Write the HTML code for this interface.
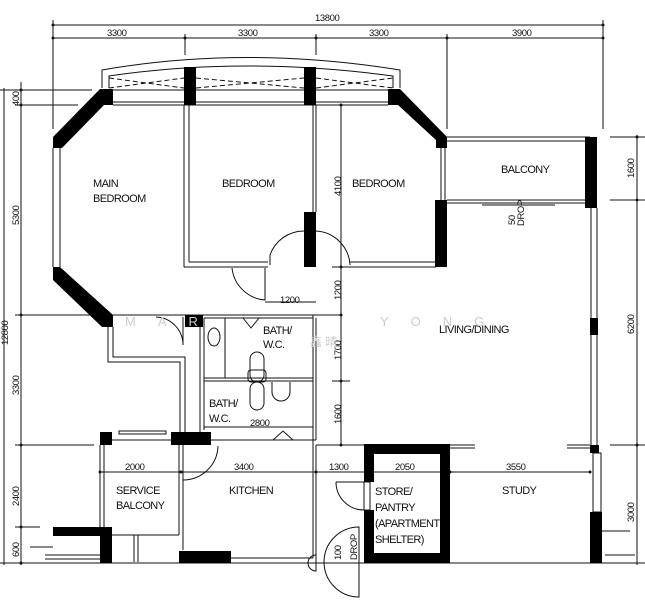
<!DOCTYPE html>
<html><head><meta charset="utf-8"><style>
html,body{margin:0;padding:0;background:#fff;}
svg{display:block;}
text{font-family:"Liberation Sans","Noto Sans CJK SC",sans-serif;fill:#111;}
.t{font-size:11px;letter-spacing:-0.6px;}
.d{font-size:9.5px;letter-spacing:-0.4px;}
</style></head><body>
<svg width="645" height="600" viewBox="0 0 645 600" xmlns="http://www.w3.org/2000/svg">
<g stroke="#111" stroke-width="1" fill="none">
<!-- top dims -->
<line x1="53" y1="25" x2="603" y2="25"/>
<line x1="53" y1="38" x2="603" y2="38"/>
<line x1="53" y1="20" x2="53" y2="129"/>
<line x1="185" y1="34" x2="185" y2="55"/>
<line x1="316" y1="34" x2="316" y2="55"/>
<line x1="447" y1="34" x2="447" y2="129"/>
<line x1="603" y1="20" x2="603" y2="129"/>
<!-- left dims -->
<line x1="4" y1="88" x2="4" y2="565"/>
<line x1="21" y1="82" x2="21" y2="565"/>
<line x1="0" y1="90" x2="92" y2="90"/>
<line x1="15" y1="105" x2="78" y2="105"/>
<line x1="15" y1="315" x2="341" y2="315"/>
<line x1="15" y1="445" x2="94" y2="445"/>
<line x1="15" y1="527" x2="40" y2="527"/>
<line x1="0" y1="563" x2="645" y2="563"/>
<!-- right dims -->
<line x1="637" y1="135" x2="637" y2="565"/>
<line x1="610" y1="137" x2="645" y2="137"/>
<line x1="610" y1="200" x2="645" y2="200"/>
<line x1="610" y1="445" x2="645" y2="445"/>
<!-- window arc -->
<path d="M102,88 L102,70 Q245,45 400,70 L400,88"/>
<path d="M109,88 L109,76 Q245,56 393,76 L393,88"/>
<line x1="102" y1="90" x2="400" y2="90"/>
<line x1="113" y1="102" x2="388" y2="102"/>
<line x1="113" y1="105" x2="388" y2="105"/>
<path d="M109,78 L184,88 M109,88 L184,78 M196,78 L304,88 M196,88 L304,78 M316,78 L393,88 M316,88 L393,78" stroke-dasharray="5,3"/>
<!-- main bedroom left wall -->
<line x1="53" y1="148" x2="53" y2="267"/>
<line x1="60" y1="148" x2="60" y2="267"/>
<!-- partitions -->
<line x1="184" y1="105" x2="184" y2="267"/>
<line x1="189" y1="105" x2="189" y2="262"/>
<line x1="184" y1="267" x2="268" y2="267"/>
<line x1="189" y1="262" x2="268" y2="262"/>
<line x1="313" y1="105" x2="313" y2="212"/>
<line x1="316" y1="105" x2="316" y2="212"/>
<line x1="350" y1="267" x2="436" y2="267"/>
<line x1="350" y1="262" x2="436" y2="262"/>
<line x1="441" y1="148" x2="441" y2="200"/>
<line x1="445" y1="148" x2="445" y2="200"/>
<!-- doors -->
<path d="M270,265 L270,255 A36,36 0 0 1 304,231"/>
<path d="M316,231 A36,36 0 0 1 350,265"/>
<path d="M232,268 A36,36 0 0 0 265,300 L265,268"/>
<!-- dim 4100 etc -->
<line x1="341" y1="105" x2="341" y2="445"/>
<line x1="332" y1="267" x2="350" y2="267"/>
<line x1="332" y1="381" x2="350" y2="381"/>
<line x1="265" y1="302" x2="316" y2="302"/>
<!-- balcony -->
<line x1="447" y1="137" x2="590" y2="137"/>
<line x1="447" y1="141" x2="590" y2="141"/>
<line x1="447" y1="200" x2="590" y2="200"/>
<line x1="447" y1="203" x2="590" y2="203"/>
<line x1="482" y1="205" x2="555" y2="205"/>
<!-- right living wall -->
<line x1="591" y1="208" x2="591" y2="445"/>
<line x1="597" y1="208" x2="597" y2="445"/>
<rect x="593" y="453" width="8" height="59"/>
<!-- passage -->
<path d="M108,327 L108,362 L180,362 L180,432"/>
<path d="M113,327 L113,357 L185,357 L185,432"/>
<path d="M156,317 A28,28 0 0 1 183,345 L183,317"/>
<!-- bath -->
<line x1="200" y1="327" x2="200" y2="432"/>
<line x1="204" y1="318" x2="204" y2="430"/>
<line x1="204" y1="318" x2="313" y2="318"/>
<line x1="225" y1="318" x2="225" y2="378"/>
<line x1="204" y1="378" x2="313" y2="378"/>
<line x1="204" y1="381" x2="313" y2="381"/>
<line x1="204" y1="427" x2="313" y2="427"/>
<line x1="313" y1="315" x2="313" y2="440"/>
<line x1="316" y1="318" x2="316" y2="440"/>
<line x1="204" y1="440" x2="316" y2="440"/>
<ellipse cx="214" cy="337" rx="6" ry="9"/>
<rect x="250" y="352" width="14" height="30" rx="7"/>
<rect x="248" y="370" width="18" height="12" rx="3"/>
<rect x="250" y="382" width="14" height="28" rx="7"/>
<path d="M272,382 L272,392 A9,9 0 0 0 290,392 L290,382"/>
<path d="M243,318 L251,328 L259,318"/>
<path d="M273,440 L283,431 L293,440"/>
<!-- service balcony -->
<line x1="100" y1="445" x2="100" y2="527"/>
<line x1="104" y1="445" x2="104" y2="527"/>
<line x1="179" y1="445" x2="179" y2="535"/>
<line x1="183" y1="445" x2="183" y2="550"/>
<line x1="112" y1="535" x2="179" y2="535"/>
<line x1="134" y1="535" x2="134" y2="562"/>
<line x1="138" y1="535" x2="138" y2="562"/>
<line x1="112" y1="440" x2="171" y2="440"/>
<rect x="119" y="431" width="47" height="3"/>
<path d="M183,480 A35,35 0 0 0 218,446"/>
<line x1="30" y1="547" x2="53" y2="547"/>
<line x1="45" y1="555" x2="100" y2="555"/>
<line x1="45" y1="559" x2="100" y2="559"/>
<line x1="605" y1="555" x2="635" y2="555"/>
<line x1="600" y1="531" x2="630" y2="531"/>
<!-- kitchen -->
<line x1="213" y1="440" x2="313" y2="440"/>
<line x1="313" y1="440" x2="313" y2="558"/>
<line x1="316" y1="445" x2="316" y2="558"/>
<line x1="231" y1="558" x2="313" y2="558"/>
<!-- dim row -->
<line x1="100" y1="472" x2="590" y2="472"/>
<line x1="316" y1="445" x2="367" y2="445"/>
<!-- store door -->
<path d="M336,482 L367,482 M336,482 A28,28 0 0 0 364,510"/>
<rect x="364" y="482" width="6" height="28"/>
<path d="M359,527 A35,35 0 0 0 359,597 Z"/>
<path d="M316,555 A8,8 0 0 0 316,571 Z"/>
<line x1="450" y1="445" x2="475" y2="445"/>
<line x1="450" y1="448" x2="475" y2="448"/>
<line x1="567" y1="445" x2="590" y2="445"/>
<line x1="567" y1="448" x2="590" y2="448"/>
</g>
<!-- ticks -->
<g fill="#111">
<circle cx="53" cy="25" r="1.5"/><circle cx="603" cy="25" r="1.5"/>
<circle cx="53" cy="38" r="1.5"/><circle cx="185" cy="38" r="1.5"/><circle cx="316" cy="38" r="1.5"/><circle cx="447" cy="38" r="1.5"/><circle cx="603" cy="38" r="1.5"/>
<circle cx="21" cy="90" r="1.5"/><circle cx="21" cy="105" r="1.5"/><circle cx="21" cy="315" r="1.5"/><circle cx="21" cy="445" r="1.5"/><circle cx="21" cy="527" r="1.5"/><circle cx="21" cy="563" r="1.5"/>
<circle cx="637" cy="137" r="1.5"/><circle cx="637" cy="200" r="1.5"/><circle cx="637" cy="445" r="1.5"/>
<circle cx="341" cy="105" r="1.5"/><circle cx="341" cy="267" r="1.5"/><circle cx="341" cy="315" r="1.5"/><circle cx="341" cy="381" r="1.5"/><circle cx="341" cy="445" r="1.5"/>
<circle cx="100" cy="472" r="1.5"/><circle cx="181" cy="472" r="1.5"/><circle cx="316" cy="472" r="1.5"/><circle cx="367" cy="472" r="1.5"/><circle cx="450" cy="472" r="1.5"/><circle cx="590" cy="472" r="1.5"/>
</g>
<!-- black walls -->
<g fill="#000">
<rect x="184" y="67" width="12" height="38"/>
<rect x="304" y="67" width="12" height="38"/>
<polygon points="100,89 113,89 113,105 104,105 62,148 53,148 53,137"/>
<polygon points="388,89 400,89 447,137 447,148 436,148 436,140 398,105 388,105"/>
<rect x="435" y="200" width="12" height="67"/>
<rect x="304" y="212" width="12" height="55"/>
<polygon points="53,267 60,267 113,315 113,327 102,327 53,280"/>
<rect x="185" y="315" width="18" height="12"/>
<rect x="585" y="137" width="12" height="71"/>
<rect x="590" y="318" width="8" height="17"/>
<rect x="590" y="445" width="9" height="8"/>
<rect x="590" y="512" width="12" height="51"/>
<rect x="100" y="432" width="12" height="13"/>
<rect x="171" y="432" width="40" height="13"/>
<rect x="53" y="527" width="59" height="9"/>
<rect x="100" y="527" width="12" height="36"/>
<rect x="179" y="551" width="52" height="12"/>
<path d="M364,444 H450 V563 H364 V510 H374 V553 H440 V454 H374 V482 H364 Z"/>
</g>
<!-- labels -->
<g class="t">
<text x="93" y="187">MAIN</text>
<text x="93" y="202">BEDROOM</text>
<text x="222" y="187">BEDROOM</text>
<text x="352" y="187">BEDROOM</text>
<text x="501" y="173">BALCONY</text>
<text x="439" y="333">LIVING/DINING</text>
<text x="263" y="334">BATH/</text>
<text x="263" y="348">W.C.</text>
<text x="209" y="407">BATH/</text>
<text x="209" y="422">W.C.</text>
<text x="116" y="494">SERVICE</text>
<text x="116" y="509">BALCONY</text>
<text x="229" y="494">KITCHEN</text>
<text x="375" y="495">STORE/</text>
<text x="375" y="511">PANTRY</text>
<text x="375" y="527">(APARTMENT</text>
<text x="375" y="543">SHELTER)</text>
<text x="502" y="494">STUDY</text>
</g>
<g class="d">
<text x="315" y="21">13800</text>
<text x="107" y="36">3300</text>
<text x="238" y="36">3300</text>
<text x="369" y="36">3300</text>
<text x="512" y="36">3900</text>
<text x="125" y="470">2000</text>
<text x="234" y="470">3400</text>
<text x="329" y="470">1300</text>
<text x="395" y="470">2050</text>
<text x="506" y="470">3550</text>
<text x="250" y="426">2800</text>
<text x="280" y="303">1200</text>
<g transform="translate(19,106) rotate(-90)"><text>400</text></g>
<g transform="translate(19,225) rotate(-90)"><text>5300</text></g>
<g transform="translate(8,345) rotate(-90)"><text>12800</text></g>
<g transform="translate(19,395) rotate(-90)"><text>3300</text></g>
<g transform="translate(19,506) rotate(-90)"><text>2400</text></g>
<g transform="translate(19,557) rotate(-90)"><text>600</text></g>
<g transform="translate(341,196) rotate(-90)"><text>4100</text></g>
<g transform="translate(341,300) rotate(-90)"><text>1200</text></g>
<g transform="translate(341,360) rotate(-90)"><text>1700</text></g>
<g transform="translate(341,424) rotate(-90)"><text>1600</text></g>
<g transform="translate(634,178) rotate(-90)"><text>1600</text></g>
<g transform="translate(634,334) rotate(-90)"><text>6200</text></g>
<g transform="translate(634,522) rotate(-90)"><text>3000</text></g>
<g transform="translate(515,225) rotate(-90)"><text>50</text></g>
<g transform="translate(524,226) rotate(-90)"><text>DROP</text></g>
<g transform="translate(341,560) rotate(-90)"><text>100</text></g>
<g transform="translate(357,560) rotate(-90)"><text>DROP</text></g>
</g>
<text x="125" y="326" style="font-size:13px;fill:#ccc;letter-spacing:22px;">MAR</text>
<text x="380" y="326" style="font-size:13px;fill:#ccc;letter-spacing:22px;">YONG</text>
<text x="310" y="346" style="font-size:12px;fill:#ccc;">鑫 晴</text>
</svg>
</body></html>
